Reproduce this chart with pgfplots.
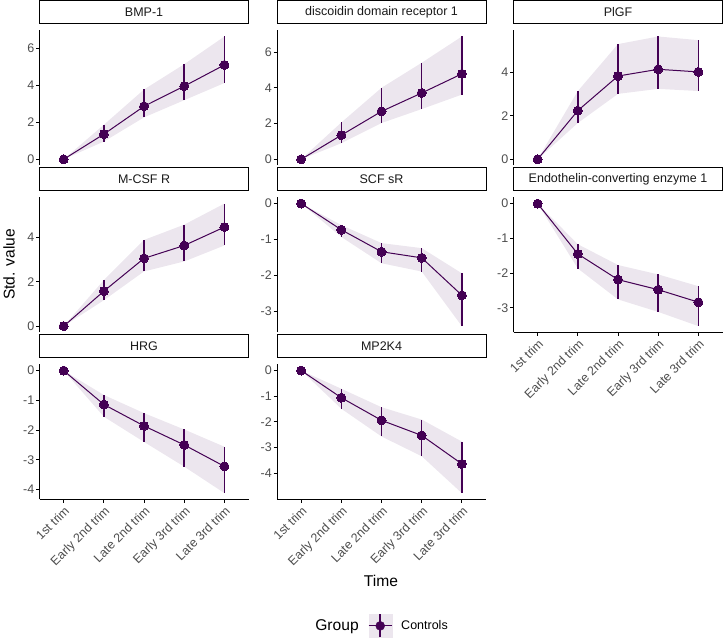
\documentclass[border=0pt]{standalone}
\usepackage{pgfplots}
\pgfplotsset{compat=1.18}
\usepackage{pgfplotstable}
\usepgfplotslibrary{fillbetween}
\usepackage{fontspec}
\setmainfont{Liberation Sans}
\definecolor{ctrl}{HTML}{440154}
\definecolor{ribbon}{HTML}{ECE6EE}
\definecolor{tickgray}{HTML}{4D4D4D}
\definecolor{stripgray}{HTML}{1A1A1A}

\pgfplotstableread{
x y lo hi
0 0 0 0
1 1.36 0.96 1.87
2 2.87 2.27 3.78
3 3.96 3.20 5.15
4 5.11 4.13 6.65
}\bmp
\pgfplotstableread{
x y lo hi
0 0 0 0
1 1.35 0.90 2.06
2 2.68 2.03 4.00
3 3.71 2.81 5.40
4 4.78 3.62 6.87
}\ddr
\pgfplotstableread{
x y lo hi
0 0 0 0
1 2.24 1.67 3.14
2 3.83 3.01 5.30
3 4.14 3.24 5.65
4 4.02 3.14 5.48
}\plgf
\pgfplotstableread{
x y lo hi
0 0 0 0
1 1.58 1.17 2.08
2 3.06 2.47 3.89
3 3.64 2.92 4.58
4 4.47 3.64 5.53
}\mcsf
\pgfplotstableread{
x y lo hi
0 0 0 0
1 -0.73 -0.93 -0.60
2 -1.34 -1.66 -1.10
3 -1.51 -1.89 -1.24
4 -2.55 -3.41 -1.94
}\scf
\pgfplotstableread{
x y lo hi
0 0 0 0
1 -1.45 -1.87 -1.17
2 -2.19 -2.76 -1.77
3 -2.48 -3.12 -2.04
4 -2.84 -3.53 -2.38
}\ece
\pgfplotstableread{
x y lo hi
0 0 0 0
1 -1.14 -1.55 -0.82
2 -1.86 -2.40 -1.43
3 -2.50 -3.23 -1.98
4 -3.22 -4.12 -2.56
}\hrg
\pgfplotstableread{
x y lo hi
0 0 0 0
1 -1.06 -1.49 -0.71
2 -1.94 -2.57 -1.43
3 -2.53 -3.34 -1.91
4 -3.64 -4.78 -2.77
}\mpk

\newcommand{\smallfont}{\fontsize{12.5}{14}\selectfont}
\newcommand{\bigfont}{\fontsize{15.6}{18}\selectfont}

\pgfplotsset{
  panel/.style={scale only axis, width=209pt, height=135pt, anchor=north west,
    xmin=-0.6, xmax=4.6, axis y line*=left, clip=false,
    axis line style={-, line width=0.9pt, black},
    tick align=outside, major tick length=3.5pt,
    tick style={line width=0.9pt, black},
    yticklabel style={font=\smallfont, text=tickgray, inner sep=1.5pt},
    title style={at={(axis description cs:0.5,1)}, anchor=south, yshift=0pt,
      draw=black, line width=0.9pt, fill=white, minimum width=209pt,
      minimum height=23.5pt, inner sep=0pt, font=\smallfont, text=stripgray},
  },
  nox/.style={axis x line=none},
  withx/.style={axis x line*=bottom, xtick={0,1,2,3,4},
    xticklabels={1st trim,Early 2nd trim,Late 2nd trim,Early 3rd trim,Late 3rd trim},
    xticklabel style={rotate=45, anchor=north east, font=\smallfont, text=tickgray, inner sep=1.5pt}},
}

\newcommand{\panel}[9][nox]{%
\begin{axis}[panel,#1,at={(#2pt,-#3pt)},ymin=#4,ymax=#5,ytick={#6},yticklabels={#6},title={#7}]
\addplot[draw=none,name path=U#9] table[x=x,y=hi]{#8};
\addplot[draw=none,name path=L#9] table[x=x,y=lo]{#8};
\addplot[fill=ribbon,draw=none] fill between[of=U#9 and L#9];
\addplot[ctrl, line width=1pt, mark=*, mark size=4.5pt,
  mark options={fill=ctrl, draw=ctrl, line width=0pt},
  error bars/.cd, y dir=both, y explicit, error mark=none,
  error bar style={line width=1.5pt, ctrl}]
  table[x=x,y=y,y error plus expr=(\thisrow{hi})-(\thisrow{y}),
        y error minus expr=(\thisrow{y})-(\thisrow{lo})]{#8};
\end{axis}}

\begin{document}
\begin{tikzpicture}
\panel{39.5}{26}{-0.33}{6.98}{0,2,4,6}{BMP-1}{\bmp}{a}
\panel{277}{26}{-0.34}{7.21}{0,2,4,6}{discoidin domain receptor 1}{\ddr}{b}
\panel{513.5}{26}{-0.28}{5.93}{0,2,4}{PlGF}{\plgf}{c}
\panel{39.5}{193}{-0.28}{5.81}{0,2,4}{M-CSF R}{\mcsf}{d}
\panel{277}{193}{-3.58}{0.17}{0,-1,-2,-3}{SCF sR}{\scf}{e}
\panel[withx]{513.5}{193}{-3.71}{0.18}{0,-1,-2,-3}{Endothelin-converting enzyme 1}{\ece}{f}
\panel[withx]{39.5}{360}{-4.33}{0.21}{0,-1,-2,-3,-4}{HRG}{\hrg}{g}
\panel[withx]{277}{360}{-5.02}{0.24}{0,-1,-2,-3,-4}{MP2K4}{\mpk}{h}

\node[font=\bigfont] at (381pt,-577pt) {Time};
\node[font=\bigfont, rotate=90] at (9pt,-260pt) {Std. value};
\node[font=\bigfont] at (337pt,-622pt) {Group};

\begin{axis}[hide axis, scale only axis, width=725pt, height=634pt,
  anchor=north west, at={(0pt,0pt)}, xmin=0, xmax=725, ymin=-634, ymax=0, clip=false,
  legend style={at={(axis cs:368,-621.5)}, anchor=west, draw=none, fill=none,
    inner sep=0pt, font=\smallfont, legend cell align=left,
    nodes={inner sep=0pt},
    /tikz/every odd column/.append style={column sep=9pt}},
  legend image code/.code={
    \fill[ribbon] (0pt,-11.5pt) rectangle (23pt,11.5pt);
    \draw[ctrl, line width=1.5pt] (11.5pt,-11.5pt) -- (11.5pt,11.5pt);
    \draw[ctrl, line width=1pt] (0pt,0pt) -- (23pt,0pt);
    \fill[ctrl] (11.5pt,0pt) circle (4.5pt);
  }]
\addlegendimage{ctrl}
\addlegendentry{Controls}
\end{axis}
\path[use as bounding box] (0pt,0pt) rectangle (725pt,-634pt);
\end{tikzpicture}
\end{document}
